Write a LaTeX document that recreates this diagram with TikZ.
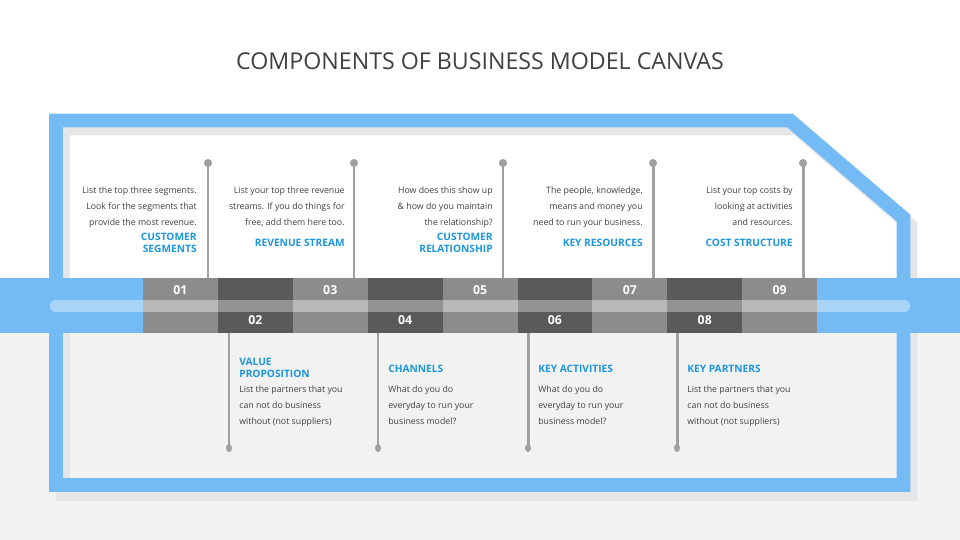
\documentclass[tikz,border=0pt]{standalone}
\usepackage{fontspec}
\setmainfont{Open Sans}
\usetikzlibrary{positioning,calc}
\definecolor{frameblue}{RGB}{116,187,245}
\definecolor{stripeblue}{RGB}{168,212,248}
\definecolor{headblue}{RGB}{28,150,222}
\definecolor{blockgray}{RGB}{140,140,140}
\definecolor{blockdark}{RGB}{90,90,90}
\definecolor{stripelight}{RGB}{184,184,184}
\definecolor{stripedark}{RGB}{147,147,147}
\definecolor{pingray}{RGB}{160,160,160}
\definecolor{shadowgray}{RGB}{228,230,232}
\definecolor{floorgray}{RGB}{242,242,242}
\definecolor{textgray}{RGB}{64,64,64}

\begin{document}
\begin{tikzpicture}[x=0.02cm, y=-0.02cm,
    desc/.style={font=\fontsize{5.0}{9.07}\selectfont, text=textgray, inner sep=0pt},
    head/.style={font=\fontsize{5.8}{6.8}\selectfont\bfseries, text=headblue, inner sep=0pt},
    num/.style={font=\fontsize{7}{8}\selectfont\bfseries, text=white, inner sep=0pt},
    pin/.style={draw=pingray, line width=1.7pt},
    frame/.style={line width=7.9pt, line join=miter}
]
    \useasboundingbox (0,0) rectangle (960,540);
    \fill[white] (0,0) rectangle (960,333);
    \fill[floorgray] (0,333) rectangle (960,540);

    \node[font=\fontsize{13.2}{15}\selectfont, text=textgray] (title) at (480,61) {COMPONENTS OF BUSINESS MODEL CANVAS};

    % frame with its shadow
    \draw[frame, shadowgray] (63,494) -- (63,128.5) -- (797,128.5) -- (910.5,226) -- (910.5,494) -- cycle;
    \draw[frame, frameblue] (56,485) -- (56,120.5) -- (790,120.5) -- (903.5,218) -- (903.5,485) -- cycle;

    % time bar
    \fill[frameblue] (0,278) rectangle (960,333);
    \fill[stripeblue, rounded corners=3pt] (50,300) rectangle (910,312);
    \foreach \i in {1,...,9} {
        \pgfmathsetmacro{\xa}{143+(\i-1)*74.9}
        \pgfmathsetmacro{\xb}{143+\i*74.9}
        \ifodd\i
            \fill[blockgray] (\xa,278) rectangle (\xb,333);
            \fill[stripelight] (\xa,300) rectangle (\xb,312);
            \node[num] (n\i) at ({(\xa+\xb)/2},290) {0\i};
        \else
            \fill[blockdark] (\xa,278) rectangle (\xb,333);
            \fill[stripedark] (\xa,300) rectangle (\xb,312);
            \node[num] (n\i) at ({(\xa+\xb)/2},320) {0\i};
        \fi
    }

    % pins above the bar
    \foreach \x [count=\k] in {208,354,503,653,803} {
        \coordinate (tp\k) at (\x,163);
        \coordinate (tb\k) at (\x,278);
        \draw[pin] (tp\k) -- (tb\k);
        \fill[pingray] (tp\k) circle (2.3pt);
    }
    % pins below the bar
    \foreach \x [count=\k] in {229,378,528,677} {
        \coordinate (bp\k) at (\x,448);
        \coordinate (bb\k) at (\x,333);
        \draw[pin] (bb\k) -- (bp\k);
        \fill[pingray] (bp\k) ellipse (1.7pt and 2.3pt);
    }

    % upper texts
    \node[desc, align=right, anchor=north east] (d1) at (197,186.5) {List the top three segments.\\Look for the segments that\\provide the most revenue.};
    \node[head, align=right, anchor=east] (h1) at (197,243) {CUSTOMER\\SEGMENTS};
    \node[desc, align=right, anchor=north east] (d3) at (345,186.5) {List your top three revenue\\streams. If you do things for\\free, add them here too.};
    \node[head, align=right, anchor=east] (h3) at (345,243) {REVENUE STREAM};
    \node[desc, align=right, anchor=north east] (d5) at (493,186.5) {How does this show up\\\& how do you maintain\\the relationship?};
    \node[head, align=right, anchor=east] (h5) at (493,243) {CUSTOMER\\RELATIONSHIP};
    \node[desc, align=right, anchor=north east] (d7) at (643,186.5) {The people, knowledge,\\means and money you\\need to run your business.};
    \node[head, align=right, anchor=east] (h7) at (643,243) {KEY RESOURCES};
    \node[desc, align=right, anchor=north east] (d9) at (793,186.5) {List your top costs by\\looking at activities\\and resources.};
    \node[head, align=right, anchor=east] (h9) at (793,243) {COST STRUCTURE};

    % lower texts
    \node[head, align=left, anchor=west] (h2) at (239,368) {VALUE\\PROPOSITION};
    \node[desc, align=left, anchor=north west] (d2) at (239,385.5) {List the partners that you\\can not do business\\without (not suppliers)};
    \node[head, align=left, anchor=west] (h4) at (388,369) {CHANNELS};
    \node[desc, align=left, anchor=north west] (d4) at (388,385.5) {What do you do\\everyday to run your\\business model?};
    \node[head, align=left, anchor=west] (h6) at (538,369) {KEY ACTIVITIES};
    \node[desc, align=left, anchor=north west] (d6) at (538,385.5) {What do you do\\everyday to run your\\business model?};
    \node[head, align=left, anchor=west] (h8) at (687,369) {KEY PARTNERS};
    \node[desc, align=left, anchor=north west] (d8) at (687,385.5) {List the partners that you\\can not do business\\without (not suppliers)};
\end{tikzpicture}
\end{document}
